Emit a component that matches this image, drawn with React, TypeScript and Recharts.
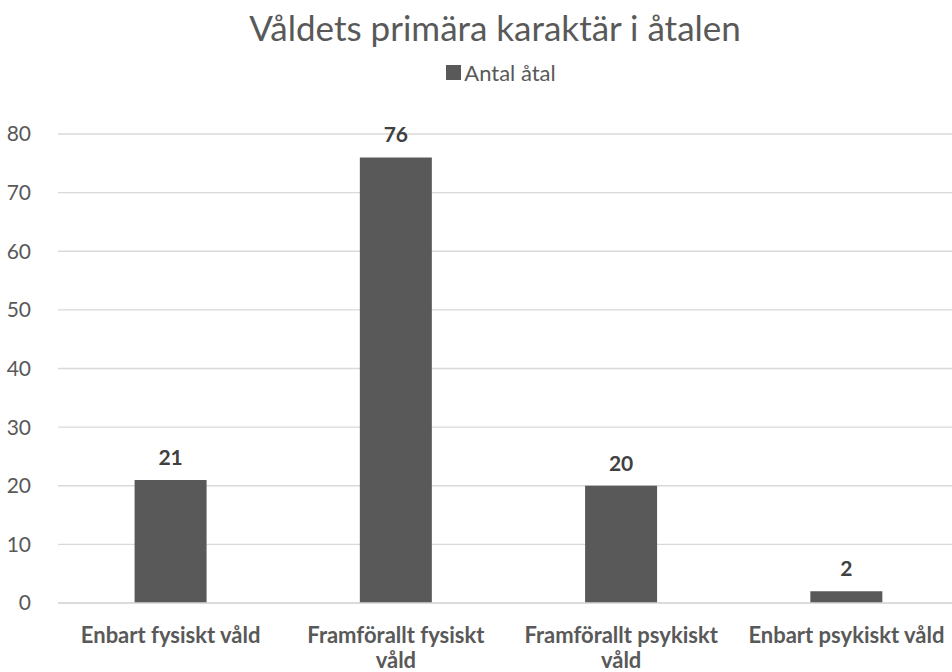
import { BarChart, Bar, XAxis, YAxis, CartesianGrid, Legend, LabelList } from "recharts";

const categories = [
  "Enbart fysiskt våld",
  "Framförallt fysiskt våld",
  "Framförallt psykiskt våld",
  "Enbart psykiskt våld",
];
const antalAtal = [21, 76, 20, 2];
const yTicks = [0, 10, 20, 30, 40, 50, 60, 70, 80];

const data = categories.map((name, i) => ({ name, value: antalAtal[i] }));

const FONT = "Lato, 'Noto Sans', sans-serif";

// labels longer than the band get their last word moved to a second line
function splitLabel(label: string): string[] {
  if (label.length <= 21) return [label];
  const idx = label.lastIndexOf(" ");
  return [label.slice(0, idx), label.slice(idx + 1)];
}

function CategoryTick(props: any) {
  const { x, y, payload } = props;
  const lines = splitLabel(String(payload.value));
  return (
    <text
      x={x}
      y={y + 32}
      textAnchor="middle"
      fill="#595959"
      style={{ fontFamily: FONT, fontSize: 22, fontWeight: 700 }}
    >
      {lines.map((l, i) => (
        <tspan key={i} x={x} dy={i === 0 ? 0 : 25}>
          {l}
        </tspan>
      ))}
    </text>
  );
}

function LegendContent() {
  return (
    <div
      style={{
        display: "flex",
        justifyContent: "center",
        alignItems: "center",
        fontFamily: FONT,
        fontSize: 22,
        color: "#595959",
      }}
    >
      <span style={{ width: 15, height: 15, background: "#595959", marginRight: 3, display: "inline-block" }} />
      Antal åtal
    </div>
  );
}

export default function App() {
  return (
    <div
      style={{
        position: "absolute",
        left: 0,
        top: 0,
        width: 952,
        height: 672,
        overflow: "hidden",
        background: "#fff",
      }}
    >
      <div
        style={{
          position: "absolute",
          top: 6,
          left: 0,
          width: 990,
          textAlign: "center",
          fontFamily: FONT,
          fontSize: 35,
          fontWeight: 400,
          color: "#595959",
        }}
      >
        Våldets primära karaktär i åtalen
      </div>
      <BarChart
        width={990}
        height={672}
        data={data}
        margin={{ top: 134, right: 31, bottom: 0, left: 0 }}
        barCategoryGap="34%"
      >
        <CartesianGrid vertical={false} stroke="#d9d9d9" strokeWidth={1.3} />
        <XAxis
          dataKey="name"
          height={69}
          axisLine={{ stroke: "#d9d9d9", strokeWidth: 1.3 }}
          tickLine={false}
          interval={0}
          tick={<CategoryTick />}
        />
        <YAxis
          width={58}
          domain={[0, 80]}
          ticks={yTicks}
          axisLine={false}
          tickLine={false}
          tickMargin={21}
          tick={{ fill: "#595959", fontSize: 21, fontFamily: FONT }}
        />
        <Legend
          verticalAlign="middle"
          align="center"
          wrapperStyle={{ top: 59, left: 0, width: 1002 }}
          content={<LegendContent />}
        />
        <Bar dataKey="value" name="Antal åtal" fill="#595959" isAnimationActive={false}>
          <LabelList
            dataKey="value"
            position="top"
            offset={15}
            style={{ fill: "#404040", fontSize: 21, fontWeight: 700, fontFamily: FONT }}
          />
        </Bar>
      </BarChart>
    </div>
  );
}
